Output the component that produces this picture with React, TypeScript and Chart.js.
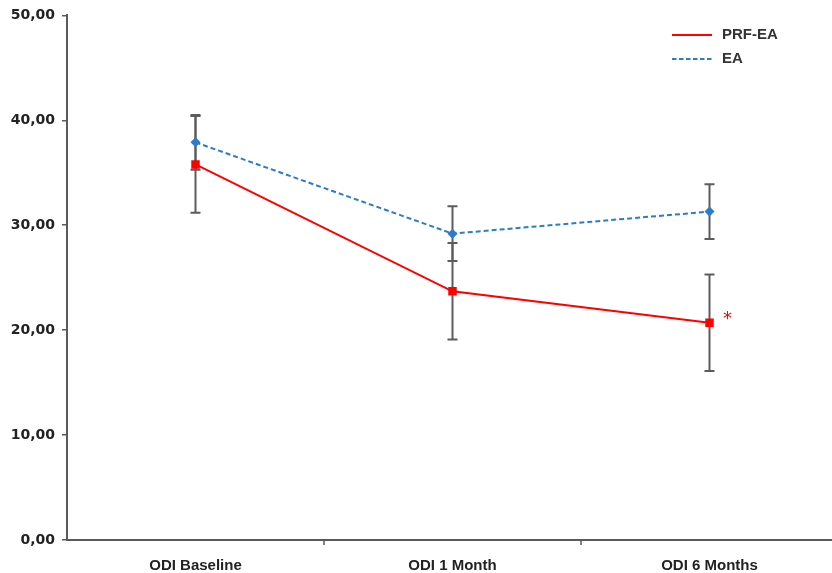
import React, { useEffect, useRef } from "react";
import { Chart, registerables } from "chart.js";

Chart.register(...registerables);

const categories = ["ODI Baseline", "ODI 1 Month", "ODI 6 Months"];
const prfEa = [35.8, 23.7, 20.7];
const prfEaErr = [4.6, 4.6, 4.6];
const ea = [37.9, 29.2, 31.3];
const eaErr = [2.6, 2.6, 2.6];
const prfMarks = ["", "", "*"];
const yTicks = [0, 10, 20, 30, 40, 50];

const RED = "#ff0000";
const BLUE = "#2a7ccc";
const AXIS = "#5a5a5a";
const LABEL_FONT = "Liberation Sans Narrow, Liberation Sans, sans-serif";

const errors = [prfEaErr, eaErr];

const overlay = {
  id: "overlay",
  beforeDatasetsDraw(chart: any) {
    const ctx = chart.ctx;
    const xs = chart.scales.x;
    const ys = chart.scales.y;
    ctx.save();
    ctx.strokeStyle = AXIS;
    ctx.lineWidth = 1.5;
    for (let i = 0; i < categories.length - 1; i++) {
      const px = xs.getPixelForValue(i + 0.5);
      ctx.beginPath();
      ctx.moveTo(px, ys.bottom);
      ctx.lineTo(px, ys.bottom + 5);
      ctx.stroke();
    }
    ctx.strokeStyle = "#5c5c5c";
    ctx.lineWidth = 2;
    chart.data.datasets.forEach((ds: any, di: number) => {
      ds.data.forEach((pt: any, i: number) => {
        const e = errors[di][i];
        const px = xs.getPixelForValue(pt.x);
        const top = ys.getPixelForValue(pt.y + e);
        const bot = ys.getPixelForValue(pt.y - e);
        ctx.beginPath();
        ctx.moveTo(px, top);
        ctx.lineTo(px, bot);
        ctx.moveTo(px - 5, top);
        ctx.lineTo(px + 5, top);
        ctx.moveTo(px - 5, bot);
        ctx.lineTo(px + 5, bot);
        ctx.stroke();
      });
    });
    ctx.restore();
  },
  afterDatasetsDraw(chart: any) {
    const ctx = chart.ctx;
    const xs = chart.scales.x;
    const ys = chart.scales.y;
    ctx.save();
    ctx.fillStyle = RED;
    ctx.font = "18px DejaVu Sans, sans-serif";
    ctx.textAlign = "center";
    ctx.textBaseline = "middle";
    prfMarks.forEach((m, i) => {
      if (!m) return;
      ctx.fillText(m, xs.getPixelForValue(i) + 18, ys.getPixelForValue(prfEa[i]) - 3);
    });
    const items = [
      { label: chart.data.datasets[0].label, color: RED, dash: [] as number[], y: 35 },
      { label: chart.data.datasets[1].label, color: BLUE, dash: [4.5, 2.5], y: 59 },
    ];
    ctx.font = `bold 15px ${LABEL_FONT}`;
    ctx.textAlign = "left";
    items.forEach((it) => {
      ctx.strokeStyle = it.color;
      ctx.lineWidth = 2;
      ctx.setLineDash(it.dash);
      ctx.beginPath();
      ctx.moveTo(672, it.y);
      ctx.lineTo(712, it.y);
      ctx.stroke();
      ctx.setLineDash([]);
      ctx.fillStyle = "#333";
      ctx.fillText(it.label, 722, it.y);
    });
    ctx.restore();
  },
};

export default function App() {
  const ref = useRef<HTMLCanvasElement | null>(null);
  useEffect(() => {
    if (!ref.current) return;
    const chart = new Chart(ref.current, {
      type: "line",
      data: {
        datasets: [
          {
            label: "PRF-EA",
            data: prfEa.map((v, i) => ({ x: i, y: v })),
            borderColor: RED,
            backgroundColor: RED,
            borderWidth: 2,
            pointStyle: "rect",
            pointRadius: 6,
            pointBorderWidth: 0,
            tension: 0,
          },
          {
            label: "EA",
            data: ea.map((v, i) => ({ x: i, y: v })),
            borderColor: BLUE,
            backgroundColor: BLUE,
            borderWidth: 2,
            borderDash: [5, 3],
            pointStyle: "rectRot",
            pointRadius: 5,
            pointBorderWidth: 0,
            tension: 0,
          },
        ],
      },
      options: {
        animation: false,
        responsive: false,
        maintainAspectRatio: false,
        layout: { autoPadding: false, padding: { top: 15, left: 0, right: 0, bottom: 0 } },
        plugins: { legend: { display: false }, tooltip: { enabled: false } },
        scales: {
          x: {
            type: "linear",
            min: -0.5,
            max: 2.5 - 6 / 257,
            afterBuildTicks: (s: any) => {
              s.ticks = categories.map((_, i) => ({ value: i }));
            },
            afterFit: (s: any) => {
              s.height = 33;
              s.paddingRight = 0;
              s.paddingLeft = 0;
            },
            grid: { display: false },
            border: { display: true, color: AXIS, width: 2 },
            ticks: {
              autoSkip: false,
              maxRotation: 0,
              padding: 9,
              color: "#222",
              font: { family: LABEL_FONT, size: 15, weight: "bold" },
              callback: (v: any) => categories[v] ?? "",
            },
          },
          y: {
            min: 0,
            max: 50,
            afterBuildTicks: (s: any) => {
              s.ticks = yTicks.map((v) => ({ value: v }));
            },
            afterFit: (s: any) => {
              s.width = 67;
            },
            grid: { drawOnChartArea: false, color: AXIS, tickLength: 5, lineWidth: 1.5 },
            border: { display: true, color: AXIS, width: 2 },
            ticks: {
              padding: 7,
              color: "#222",
              font: { family: "DejaVu Sans, sans-serif", size: 14, weight: "bold" },
              callback: (v: any) => Number(v).toFixed(2).replace(".", ","),
            },
          },
        },
      },
      plugins: [overlay],
    });
    return () => chart.destroy();
  }, []);
  return (
    <div style={{ position: "fixed", left: 0, top: 0, width: 832, height: 573, background: "#fff" }}>
      <canvas ref={ref} width={832} height={573} style={{ width: 832, height: 573, display: "block" }} />
    </div>
  );
}
